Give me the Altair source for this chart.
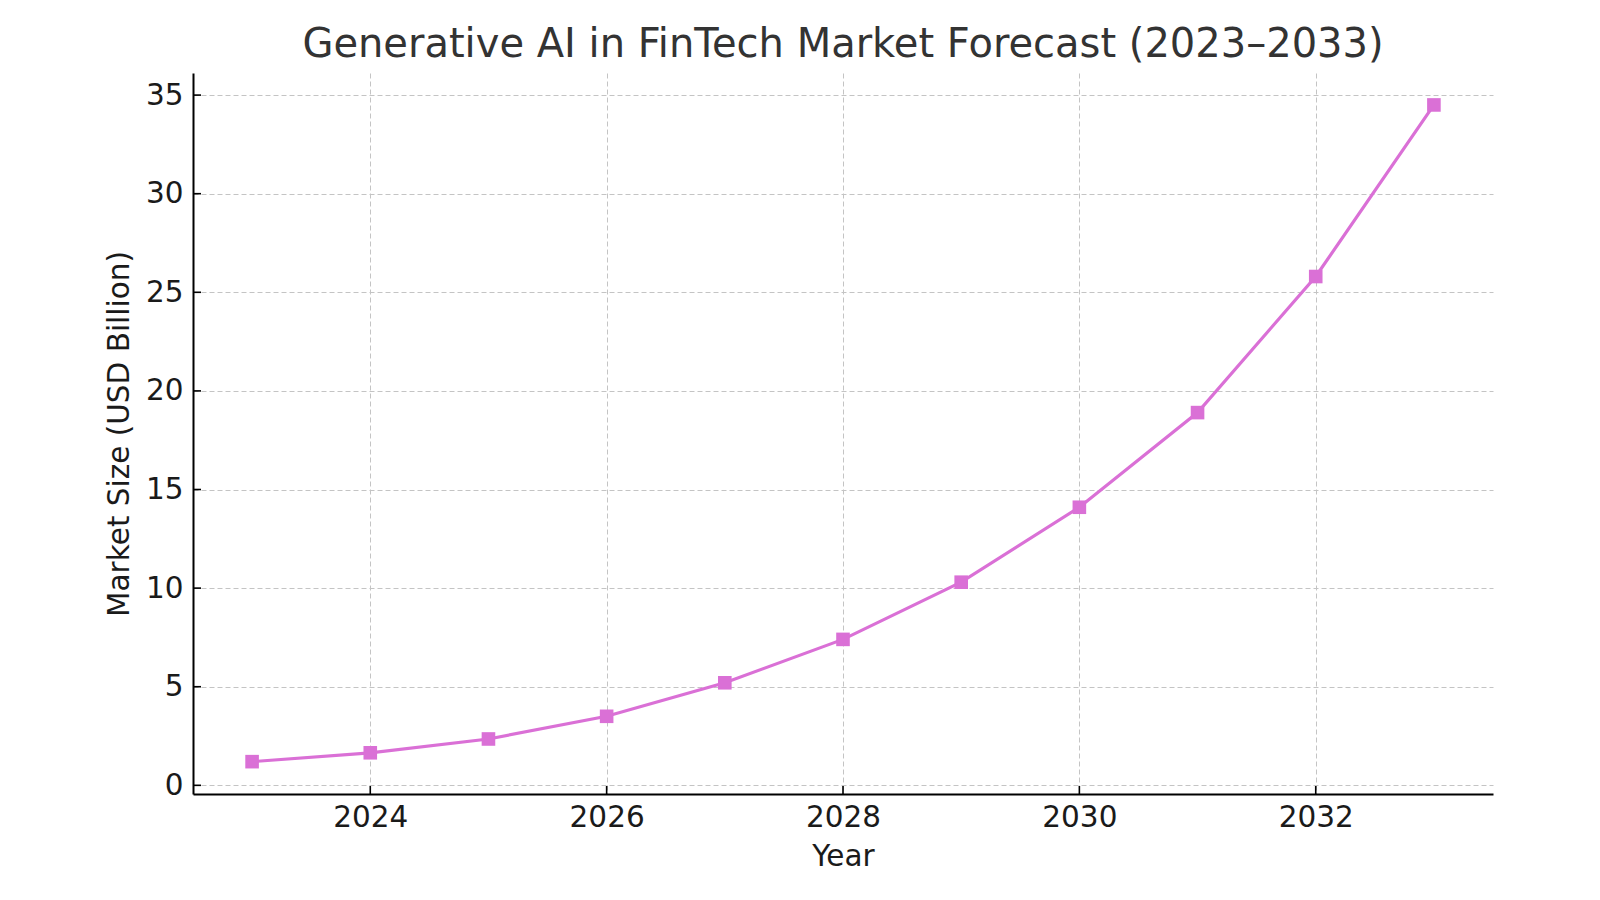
import altair as alt
import pandas as pd

# ---- data ----
years = [2023, 2024, 2025, 2026, 2027, 2028, 2029, 2030, 2031, 2032, 2033]
market_size = [1.2, 1.65, 2.35, 3.5, 5.2, 7.4, 10.3, 14.1, 18.9, 25.8, 34.5]
x_ticks = [2024, 2026, 2028, 2030, 2032]
y_ticks = [0, 5, 10, 15, 20, 25, 30, 35]

df = pd.DataFrame({"Year": years, "Market": market_size})
ytick_df = pd.DataFrame({"v": y_ticks})
xtick_df = pd.DataFrame({"v": x_ticks})

W, H = 1300, 721
FONT = "DejaVu Sans"
COLOR = "#DA70D6"

x_scale = alt.Scale(domain=[2022.5, 2033.5], nice=False, zero=False)
y_scale = alt.Scale(domain=[-0.44, 36.12], nice=False, zero=False)

x_axis = alt.Axis(
    values=x_ticks, format="d", title="Year",
    labelFont=FONT, labelFontSize=29.5, labelColor="#1a1a1a", labelPadding=9,
    titleFont=FONT, titleFontSize=29.5, titleFontWeight="normal", titleColor="#1a1a1a", titlePadding=11,
    ticks=False, tickSize=0,
    domainColor="black", domainWidth=2,
    grid=True, gridColor="#c4c4c4", gridDash=[5, 3], gridWidth=1,
)
y_axis = alt.Axis(
    values=y_ticks, title="Market Size (USD Billion)",
    labelFont=FONT, labelFontSize=29.5, labelColor="#1a1a1a", labelPadding=10,
    titleFont=FONT, titleFontSize=29.5, titleFontWeight="normal", titleColor="#1a1a1a", titlePadding=11,
    ticks=False, tickSize=0,
    domainColor="black", domainWidth=2,
    grid=True, gridColor="#c4c4c4", gridDash=[5, 3], gridWidth=1,
)

base = alt.Chart(df)

line = base.mark_line(color=COLOR, strokeWidth=3.2).encode(
    x=alt.X("Year:Q", scale=x_scale, axis=x_axis),
    y=alt.Y("Market:Q", scale=y_scale, axis=y_axis),
)
points = base.mark_point(shape="square", filled=True, color=COLOR, size=185, opacity=1).encode(
    x=alt.X("Year:Q", scale=x_scale),
    y=alt.Y("Market:Q", scale=y_scale),
)

# inward ticks (matplotlib style)
ytick_marks = alt.Chart(ytick_df).mark_rule(color="black", strokeWidth=1.6).encode(
    y=alt.Y("v:Q", scale=y_scale),
    x=alt.value(0), x2=alt.value(8),
)
xtick_marks = alt.Chart(xtick_df).mark_rule(color="black", strokeWidth=1.6).encode(
    x=alt.X("v:Q", scale=x_scale),
    y=alt.value(H), y2=alt.value(H - 8),
)

chart = alt.layer(line, points, ytick_marks, xtick_marks).properties(
    width=W, height=H,
    title=alt.TitleParams(
        "Generative AI in FinTech Market Forecast (2023\u20132033)",
        font=FONT, fontSize=40, fontWeight="normal", color="#333333",
        anchor="middle", offset=8,
    ),
    autosize=alt.AutoSizeParams(type="none"),
    padding={"left": 193, "top": 73, "right": 107, "bottom": 106},
    background="white",
).configure_view(stroke=None)

chart.save("out.html", embed_options={"renderer": "svg", "actions": False})
